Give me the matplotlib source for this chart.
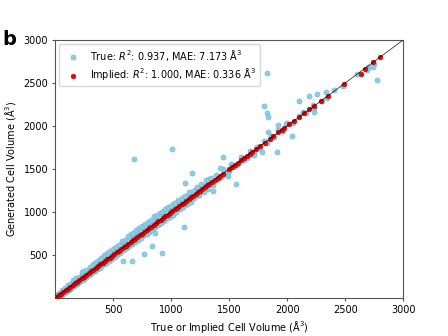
import matplotlib.pyplot as plt
import numpy as np

# true cell volumes vs generated (band along the diagonal)
true_x = [15, 28, 40, 52, 65, 78, 90, 102, 115, 125, 138, 150, 160, 172, 185, 196, 208, 220, 232, 245,
          255, 268, 280, 292, 305, 318, 330, 342, 355, 368, 380, 392, 405, 418, 430, 442, 455, 468, 480, 492,
          505, 518, 530, 542, 555, 568, 580, 592, 605, 618, 630, 642, 655, 668, 680, 692, 705, 718, 730, 742,
          755, 768, 780, 792, 805, 818, 830, 842, 855, 868, 880, 892, 905, 918, 930, 942, 955, 968, 980, 992,
          1005, 1020, 1035, 1050, 1065, 1080, 1095, 1110, 1125, 1140, 1158, 1175, 1192, 1210, 1228, 1245, 1265, 1285, 1305, 1325,
          1345, 1365, 1385, 1405, 1428, 1450, 1472, 1495, 1520, 1545, 1570, 1600, 1625, 1650, 1680, 1710, 1740, 1770, 1800, 1830,
          1860, 1890, 1920, 1960, 2000, 2050, 2100, 2160, 2220, 2300, 2400, 2480, 2600, 2700,
          22, 45, 58, 70, 82, 95, 108, 120, 132, 145, 158, 168, 180, 192, 205, 215, 228, 240, 250, 262,
          275, 288, 300, 312, 325, 336, 350, 362, 375, 386, 398, 412, 425, 436, 450, 462, 475, 486, 500, 512,
          525, 536, 550, 562, 575, 588, 600, 612, 625, 636, 650, 662, 675, 686, 700, 712, 725, 736, 750, 762,
          775, 788, 800, 812, 825, 838, 850, 862, 875, 888, 900, 912, 925, 938, 950, 962, 975, 988, 1000, 1015,
          1030, 1045, 1060, 1075, 1090, 1105, 1120, 1135, 1150, 1168, 1185, 1200, 1220, 1240, 1260, 1280, 1300, 1320, 1340, 1360,
          684, 1009, 1822, 1799, 1825, 1839, 2043, 2106, 2192, 2255, 2336, 2347, 2235, 2776, 2750, 2739, 2692, 1839, 1925, 1991,
          2233, 2135, 1184, 1451, 1121, 1560, 1494, 1115, 1422, 1365, 589, 666, 770, 839, 920, 862, 1911, 1782, 1710]
true_y = [30, 15, 55, 38, 80, 60, 110, 85, 140, 105, 120, 185, 140, 200, 165, 230, 190, 205, 270, 225,
          290, 250, 265, 330, 285, 300, 375, 320, 345, 410, 360, 375, 450, 395, 470, 420, 440, 505, 455, 470,
          560, 495, 520, 600, 530, 545, 640, 570, 655, 590, 610, 700, 630, 650, 730, 668, 690, 770, 705, 725,
          815, 740, 760, 860, 780, 800, 880, 815, 835, 930, 850, 875, 975, 890, 910, 1010, 925, 950, 1040, 965,
          990, 1090, 1005, 1035, 1120, 1050, 1080, 1170, 1095, 1125, 1215, 1150, 1175, 1270, 1200, 1230, 1310, 1255, 1290, 1380,
          1320, 1350, 1430, 1385, 1410, 1495, 1445, 1475, 1560, 1520, 1550, 1640, 1600, 1630, 1710, 1690, 1760, 1750, 1830, 1805,
          1880, 1870, 1950, 1940, 2030, 2030, 2120, 2150, 2240, 2290, 2420, 2470, 2610, 2690,
          45, 25, 90, 50, 120, 70, 150, 95, 165, 130, 210, 150, 235, 175, 250, 200, 300, 215, 320, 240,
          330, 270, 360, 290, 400, 310, 415, 340, 440, 350, 470, 390, 495, 410, 520, 430, 545, 450, 575, 480,
          590, 505, 620, 520, 665, 555, 680, 580, 720, 600, 745, 630, 760, 650, 790, 680, 810, 700, 840, 730,
          855, 750, 880, 770, 905, 790, 950, 820, 960, 850, 990, 870, 1005, 900, 1040, 930, 1060, 940, 1075, 970,
          1110, 1000, 1140, 1040, 1160, 1060, 1190, 1090, 1230, 1120, 1250, 1160, 1290, 1195, 1330, 1235, 1370, 1270, 1400, 1310,
          1621, 1733, 2620, 2238, 2150, 2104, 1888, 2289, 2351, 2370, 2397, 2320, 2165, 2532, 2720, 2690, 2652, 1926, 2015, 2026,
          2208, 2157, 1455, 1637, 1340, 1320, 1424, 826, 1513, 1243, 432, 432, 510, 606, 529, 761, 1694, 1694, 1667]

# implied cell volumes vs generated (on the diagonal)
implied_x = [10, 30, 50, 70, 90, 110, 130, 150, 170, 190, 210, 230, 250, 270, 290, 310, 330, 350, 370, 390,
             410, 430, 450, 470, 490, 510, 530, 550, 570, 590, 610, 630, 650, 670, 690, 710, 730, 750, 770, 790,
             810, 830, 850, 870, 890, 910, 930, 950, 970, 990, 1010, 1030, 1050, 1070, 1090, 1110, 1130, 1150, 1170, 1190,
             1210, 1230, 1250, 1270, 1290, 1310, 1330, 1350, 1375, 1400, 1420, 1445, 1500, 1525, 1550, 1575, 1600, 1625, 1650, 1680,
             1700, 1730, 1762, 1805, 1848, 1882, 1925, 1954, 1977, 2020, 2063, 2106, 2148, 2192, 2235, 2290, 2350, 2491, 2638, 2672,
             2744, 2796]
implied_y = [10, 30, 50, 70, 90, 110, 130, 150, 170, 190, 210, 230, 250, 270, 290, 310, 330, 350, 370, 390,
             410, 430, 450, 470, 490, 510, 530, 550, 570, 590, 610, 630, 650, 670, 690, 710, 730, 750, 770, 790,
             810, 830, 850, 870, 890, 910, 930, 950, 970, 990, 1010, 1030, 1050, 1070, 1090, 1110, 1130, 1150, 1170, 1190,
             1210, 1230, 1250, 1270, 1290, 1310, 1330, 1350, 1375, 1400, 1420, 1445, 1500, 1525, 1550, 1575, 1600, 1625, 1650, 1680,
             1700, 1730, 1762, 1805, 1848, 1882, 1925, 1954, 1977, 2020, 2063, 2106, 2148, 2192, 2235, 2290, 2350, 2491, 2602, 2667,
             2744, 2799]

ticks = [500, 1000, 1500, 2000, 2500, 3000]

plt.rcParams['font.size'] = 7
fig = plt.figure(figsize=(4.48, 3.36), dpi=100)
ax = fig.add_axes([0.123, 0.113, 0.777, 0.768])

ax.scatter(true_x, true_y, s=14, c='skyblue', edgecolors='#6fa8c0', linewidths=0.3,
           label='True: $R^2$: 0.937, MAE: 7.173 Å$^3$', zorder=2)
ax.scatter(implied_x, implied_y, s=12, c='red', edgecolors='#8b0000', linewidths=0.3,
           label='Implied: $R^2$: 1.000, MAE: 0.336 Å$^3$', zorder=3)
ax.plot([0, 3000], [0, 3000], color='k', lw=0.6, alpha=0.8, zorder=4)

ax.set_xlim(0, 3000)
ax.set_ylim(0, 3000)
ax.set_xticks(ticks)
ax.set_yticks(ticks)
ax.tick_params(length=2.5, width=0.8, pad=2.5, colors='#555555', labelcolor='k')
for sp in ax.spines.values():
    sp.set_color('#555555')
ax.set_xlabel('True or Implied Cell Volume (Å$^3$)', labelpad=3)
ax.set_ylabel('Generated Cell Volume (Å$^3$)', labelpad=4)
ax.legend(loc='upper left', fontsize=7, labelspacing=0.35, borderaxespad=0.4)

fig.text(0.005, 0.865, 'b', fontsize=14, fontweight='bold')
fig.savefig('out.png', dpi=100)
